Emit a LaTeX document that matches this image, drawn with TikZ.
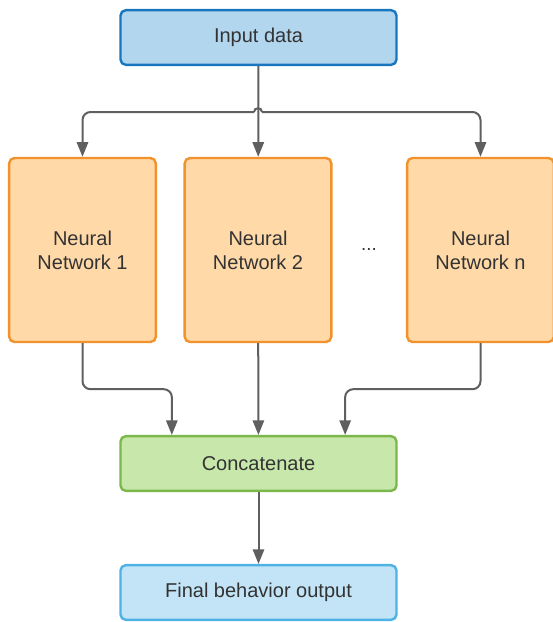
\documentclass[tikz,border=0pt]{standalone}
\usepackage{fontspec}
\setmainfont{Liberation Sans}
\usetikzlibrary{arrows.meta}
\definecolor{inputfill}{RGB}{179,214,239}
\definecolor{inputedge}{RGB}{24,118,190}
\definecolor{netfill}{RGB}{255,217,168}
\definecolor{netedge}{RGB}{241,146,44}
\definecolor{catfill}{RGB}{199,231,171}
\definecolor{catedge}{RGB}{123,183,74}
\definecolor{outfill}{RGB}{194,228,246}
\definecolor{outedge}{RGB}{78,178,229}
\definecolor{wire}{RGB}{95,95,95}
\definecolor{ink}{RGB}{51,51,51}
\tikzset{
  box/.style={draw,rounded corners=4pt,line width=1.8pt,text=ink,
              font=\fontsize{15}{18}\selectfont,align=center},
  widebox/.style={box,minimum width=207pt,minimum height=41pt},
  netbox/.style={box,fill=netfill,draw=netedge,minimum width=110pt,minimum height=138pt},
  flow/.style={wire,line width=1.5pt,-{Triangle[length=11pt,width=8.5pt]}},
  wireline/.style={wire,line width=1.5pt}
}

\begin{document}
\begin{tikzpicture}[x=0.75pt,y=-0.75pt]

  \useasboundingbox (0,0) rectangle (553,622);

  % ── BOXES ──────────────────────────────────────────────────────────────────
  \node[widebox,fill=inputfill,draw=inputedge] (input) at (258.5,37.5) {Input data};

  \node[netbox] (nn1) at (82.5,250) {Neural\\Network 1};
  \node[netbox] (nn2) at (258,250)  {Neural\\Network 2};
  \node[netbox] (nnn) at (480.5,250) {Neural\\Network n};
  \node[text=ink,font=\fontsize{14}{16}\selectfont] (dots) at (369,249) {...};

  \node[widebox,fill=catfill,draw=catedge] (concat) at (258.5,463.5) {Concatenate};
  \node[widebox,fill=outfill,draw=outedge] (final) at (258.5,592.5) {Final behavior output};

  % ── SPLIT INTO THE NETWORKS ────────────────────────────────────────────────
  \coordinate (hopL) at (254,112);
  \coordinate (hopR) at (262,112);
  \draw[flow] (input) -- (nn2);
  \draw[flow,rounded corners=6pt] (hopL) -| (nn1.north);
  \draw[flow,rounded corners=6pt] (hopR) -| (nnn.north);
  \draw[wireline] (hopL) .. controls (254,107) and (262,107) .. (hopR);

  % ── MERGE INTO CONCATENATE ─────────────────────────────────────────────────
  \draw[flow,rounded corners=6pt] (nn1.south) -- ++(0,46) -| ([xshift=-65pt]concat.north);
  \draw[flow] (nn2) -- (concat);
  \draw[flow,rounded corners=6pt] (nnn.south) -- ++(0,46) -| ([xshift=65pt]concat.north);

  % ── OUTPUT ─────────────────────────────────────────────────────────────────
  \draw[flow] (concat) -- (final);

\end{tikzpicture}
\end{document}
